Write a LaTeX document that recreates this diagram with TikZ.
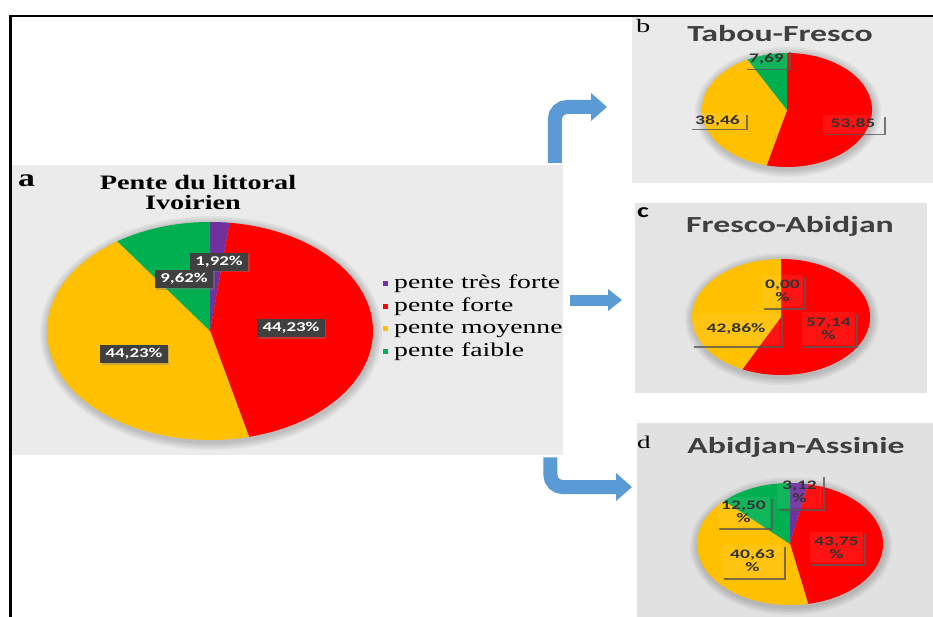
\documentclass[tikz,border=0pt]{standalone}
\usepackage{fontspec}
\setmainfont{Liberation Serif}
\newfontfamily\carl{Carlito}
\usetikzlibrary{arrows.meta,shadows}
\definecolor{cpur}{HTML}{7030A0}
\definecolor{cred}{HTML}{FF0000}
\definecolor{cyel}{HTML}{FFC000}
\definecolor{cgrn}{HTML}{00B050}
\definecolor{cblue}{HTML}{5B9BD5}
\definecolor{panA}{HTML}{EBEBEB}
\definecolor{panB}{HTML}{EAEAEA}
\definecolor{panC}{HTML}{E4E4E4}
\definecolor{panD}{HTML}{E1E1E1}
\definecolor{ttl}{HTML}{3F3F3F}
\newcommand\hs[2][1.47]{\scalebox{#1}[1]{#2}}
\newcommand\pieslice[7]{\fill[#7] (#1,#2) -- plot[domain=#5:#6,samples=100] ({#1+#3*cos(\x)},{#2-#4*sin(\x)}) -- cycle;}
\newcommand\pieshadow[4]{\foreach \k in {1,...,5}{\fill[black,opacity=0.04] (#1+1,#2+2) ellipse[x radius={(#3+1.6*\k)*1pt}, y radius={(#4+1.6*\k)*1pt}];}}
\newcommand\shd[1]{\draw[shline] ([shift={(1.5pt,-2pt)}]#1.north east) -- ([shift={(1.5pt,-1.5pt)}]#1.south east) -- ([shift={(2pt,-1.5pt)}]#1.south west);}
\begin{document}
\begin{tikzpicture}[x=1pt,y=-1pt,
  panel/.style={draw=none,inner sep=0pt,anchor=north west},
  biglab/.style={fill=black!75,text=white,font=\carl\bfseries\fontsize{13.5}{13.5}\selectfont,inner xsep=5.5pt,inner ysep=0pt,minimum height=18pt,drop shadow={shadow xshift=1.5pt,shadow yshift=-1.5pt,opacity=0.4}},
  smlab/.style={font=\carl\bfseries\fontsize{13}{13}\selectfont,text=black!80,align=center,inner sep=0pt,fill=white,fill opacity=0.07,text opacity=1},
  shline/.style={draw=black!65,line width=1.6pt,opacity=0.8},
  ttlfont/.style={font=\carl\bfseries\fontsize{23}{23}\selectfont,text=ttl,anchor=base},
  legtext/.style={font=\fontsize{19.5}{19.5}\selectfont,anchor=base west,inner sep=0pt},
  bigarrow/.style={draw=cblue,line width=14pt,-{Triangle[length=16pt,width=27pt]}},
  midarrow/.style={draw=cblue,line width=11pt,-{Triangle[length=14pt,width=21pt]}}]
\useasboundingbox (0,0) rectangle (933,617);
\fill[white] (0,0) rectangle (933,617);
% panels
\node[panel,fill=panA,minimum width=551.5pt,minimum height=290pt] (pa) at (11.5,165) {};
\node[panel,fill=panB,minimum width=301pt,minimum height=166pt] (pb) at (632,17) {};
\node[panel,fill=panC,minimum width=292pt,minimum height=190pt] (pc) at (635,203) {};
\node[panel,fill=panD,minimum width=296pt,minimum height=194pt] (pd) at (637,423) {};
% frame
\draw[line width=2.2pt] (10.5,617) -- (10.5,16) -- (933,16);

% ---------- panel a ----------
\node[font=\bfseries\fontsize{25}{25}\selectfont,anchor=base west,inner sep=0pt] (la) at (18,187) {\hs[1.35]{a}};
\node[font=\bfseries\fontsize{20.5}{20.5}\selectfont,anchor=base,inner sep=0pt] (ta1) at (198,190) {\hs[1.38]{Pente du littoral}};
\node[font=\bfseries\fontsize{20.5}{20.5}\selectfont,anchor=base,inner sep=0pt] (ta2) at (193,210) {\hs[1.38]{Ivoirien}};
\pieshadow{210}{331}{163}{109}
\pieslice{210}{331}{163}{109}{90}{83.09}{cpur}
\pieslice{210}{331}{163}{109}{83.09}{-76.14}{cred}
\pieslice{210}{331}{163}{109}{-76.14}{-235.37}{cyel}
\pieslice{210}{331}{163}{109}{-235.37}{-270}{cgrn}
\node[biglab] (a1) at (219,262) {\hs[1.4]{1,92\%}};
\node[biglab] (a2) at (184,279) {\hs[1.4]{9,62\%}};
\node[biglab] (a3) at (291,328) {\hs[1.4]{44,23\%}};
\node[biglab] (a4) at (134,354) {\hs[1.4]{44,23\%}};
% legend
\fill[cpur] (383,281) rectangle (388,286);
\fill[cred] (383,304) rectangle (388,309);
\fill[cyel] (383,326) rectangle (388,331);
\fill[cgrn] (383,349) rectangle (388,354);
\node[legtext] (g1) at (394,288) {\hs[1.42]{pente très forte}};
\node[legtext] (g2) at (394,311) {\hs[1.42]{pente forte}};
\node[legtext] (g3) at (394,333) {\hs[1.42]{pente moyenne}};
\node[legtext] (g4) at (394,356) {\hs[1.42]{pente faible}};

% ---------- panel b ----------
\node[font=\fontsize{19}{19}\selectfont,anchor=base west,inner sep=0pt] (lb) at (636,33) {\hs[1.5]{b}};
\node[ttlfont] (tb) at (780,42) {\hs{Tabou-Fresco}};
\pieshadow{787}{110}{85}{57}
\pieslice{787}{110}{85}{57}{90}{-103.86}{cred}
\pieslice{787}{110}{85}{57}{-103.86}{-242.32}{cyel}
\pieslice{787}{110}{85}{57}{-242.32}{-270}{cgrn}
\node[smlab,minimum width=43pt,minimum height=18pt] (b1) at (766.5,59) {\hs[1.5]{7,69}};
\node[smlab,minimum width=55pt,minimum height=15pt] (b2) at (717.5,120.5) {\hs[1.5]{38,46}};
\node[smlab,minimum width=60pt,minimum height=18pt] (b3) at (853,124) {\hs[1.5]{53,85}};
\shd{b1}\shd{b2}\shd{b3}

% ---------- panel c ----------
\node[font=\carl\bfseries\fontsize{20}{20}\selectfont,anchor=base west,inner sep=0pt] (lc) at (637,218) {\hs[1.4]{c}};
\node[ttlfont] (tc) at (790,233) {\hs{Fresco-Abidjan}};
\pieshadow{781}{317}{89}{58}
\pieslice{781}{317}{89}{58}{90}{-115.7}{cred}
\pieslice{781}{317}{89}{58}{-115.7}{-270}{cyel}
\node[smlab,minimum width=41pt,minimum height=32pt] (c1) at (782.5,291) {\hs[1.5]{0,00}\\\hs[1.5]{\%}};
\node[smlab,minimum width=88pt,minimum height=32pt] (c2) at (736,329) {\hs[1.5]{42,86\%}};
\node[smlab,minimum width=53pt,minimum height=33pt] (c3) at (828.5,328.5) {\hs[1.5]{57,14}\\\hs[1.5]{\%}};
\shd{c1}\shd{c2}\shd{c3}

% ---------- panel d ----------
\node[font=\fontsize{18}{18}\selectfont,anchor=base west,inner sep=0pt] (ld) at (637,448) {\hs[1.5]{d}};
\node[ttlfont] (td) at (796,453) {\hs{Abidjan-Assinie}};
\pieshadow{790}{544}{93}{61}
\pieslice{790}{544}{93}{61}{90}{78.77}{cpur}
\pieslice{790}{544}{93}{61}{78.77}{-78.73}{cred}
\pieslice{790}{544}{93}{61}{-78.73}{-225}{cyel}
\pieslice{790}{544}{93}{61}{-225}{-270}{cgrn}
\node[smlab,minimum width=45pt,minimum height=33pt] (d1) at (799.5,491.5) {\hs[1.5]{3,12}\\\hs[1.5]{\%}};
\node[smlab,minimum width=53pt,minimum height=30pt] (d2) at (743.5,512) {\hs[1.5]{12,50}\\\hs[1.5]{\%}};
\node[smlab,minimum width=53pt,minimum height=31pt] (d3) at (836.5,547.5) {\hs[1.5]{43,75}\\\hs[1.5]{\%}};
\node[smlab,minimum width=61pt,minimum height=32pt] (d4) at (752.5,561) {\hs[1.5]{40,63}\\\hs[1.5]{\%}};
\shd{d1}\shd{d2}\shd{d3}\shd{d4}

% ---------- arrows ----------
\coordinate (t1) at (607,107);
\coordinate (s2) at (570,300);
\coordinate (t2) at (622,300);
\coordinate (t3) at (632,487);
\draw[bigarrow] ([xshift=-8.5pt,yshift=2pt]pa.north east) [rounded corners=12pt] |- (t1);
\draw[midarrow] (s2) -- (t2);
\draw[bigarrow] ([xshift=-13pt,yshift=-2pt]pa.south east) [rounded corners=12pt] |- (t3);
\end{tikzpicture}
\end{document}
